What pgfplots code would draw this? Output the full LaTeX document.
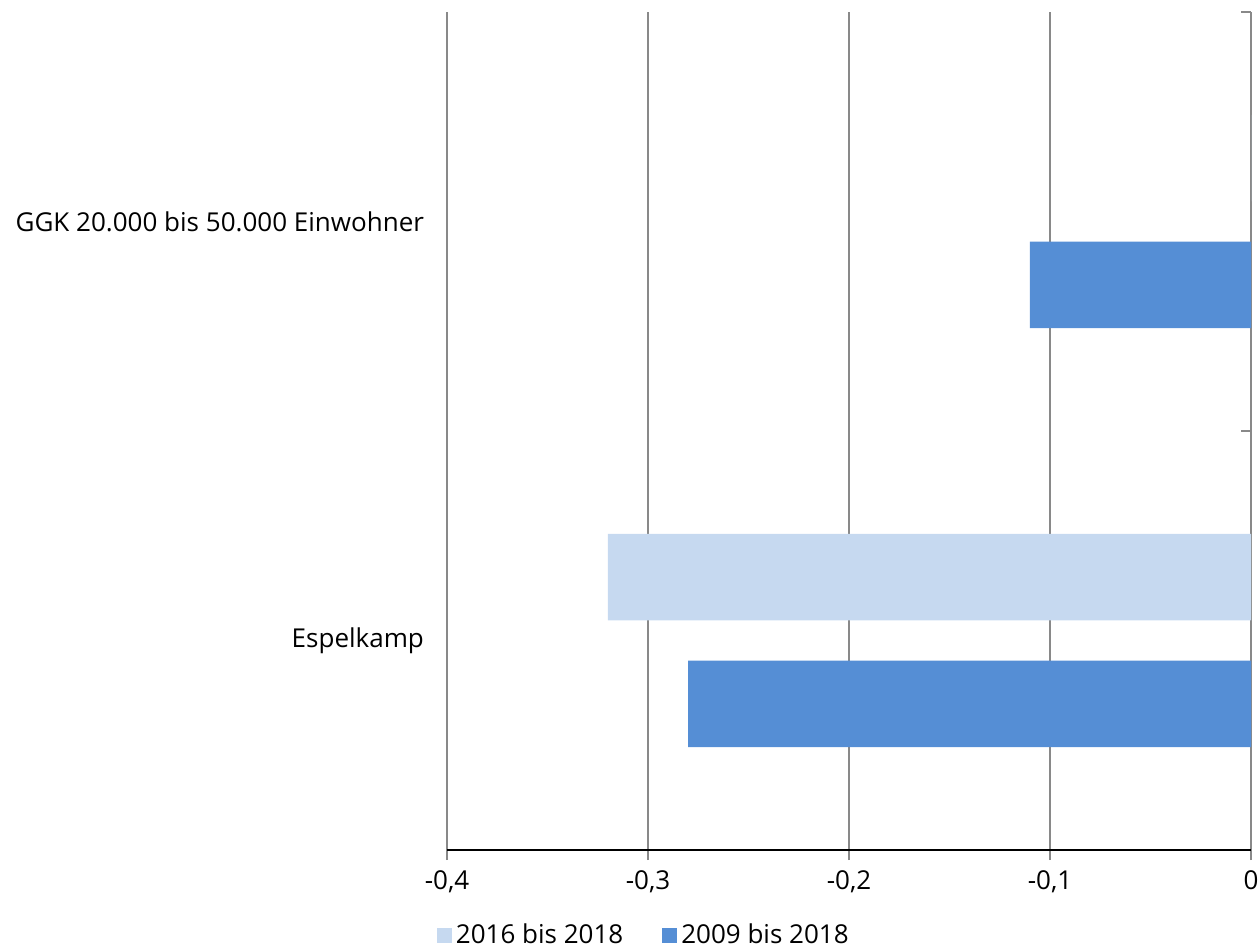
\documentclass[border=0pt]{standalone}
\usepackage{fontspec}
\setmainfont{Open Sans}
\usepackage{pgfplots}
\pgfplotsset{compat=1.18}
\usetikzlibrary{calc}
\definecolor{hellblau}{HTML}{C6D9F0}
\definecolor{blau}{HTML}{558ED5}
\definecolor{gitter}{HTML}{898989}

\begin{document}
\begin{tikzpicture}[font=\fontsize{13}{15}\selectfont]
\begin{axis}[
    scale only axis,
    width=402pt, height=419pt,
    xbar, bar width=43.3pt,
    xmin=-0.4, xmax=0, ymin=-0.5, ymax=1.5,
    axis x line*=bottom,
    x axis line style={black, line width=1pt, -},
    y axis line style={draw=none},
    xtick={-0.4,-0.3,-0.2,-0.1,0},
    xticklabels={{-0,4},{-0,3},{-0,2},{-0,1},0},
    xtick pos=bottom, xticklabel pos=bottom,
    xticklabel style={yshift=-2pt},
    tick align=outside, major tick length=5pt,
    xtick style={gitter, line width=1pt},
    xmajorgrids, grid style={gitter, line width=1pt},
    ytick={-0.5,0.5,1.5},
    y tick label as interval,
    yticklabels={Espelkamp, GGK 20.000 bis 50.000 Einwohner},
    ytick pos=right, yticklabel pos=left,
    ytick style={gitter, line width=1pt, xshift=-5pt},
    yticklabel style={xshift=-3pt},
    legend columns=2,
    legend style={draw=none, fill=none, at={(0.246,0)}, yshift=-42.5pt,
        anchor=center, inner sep=0pt,
        /tikz/every even column/.append style={column sep=17.5pt}},
    legend image code/.code={\fill[#1] (0pt,-3.75pt) rectangle (7.5pt,3.75pt);},
    legend cell align=left,
]
% 2016 bis 2018
\addplot[draw=none, fill=hellblau, bar shift=31.7pt] coordinates {
    (0,1)
    (-0.32,0)
};
% 2009 bis 2018
\addplot[draw=none, fill=blau, bar shift=-31.7pt] coordinates {
    (-0.11,1)
    (-0.28,0)
};
\legend{2016 bis 2018, 2009 bis 2018}
\end{axis}
\pgfresetboundingbox
\useasboundingbox ($(current axis.south west)+(-223.5pt,-48.5pt)$)
    rectangle ($(current axis.north east)+(4pt,6pt)$);
\end{tikzpicture}
\end{document}
